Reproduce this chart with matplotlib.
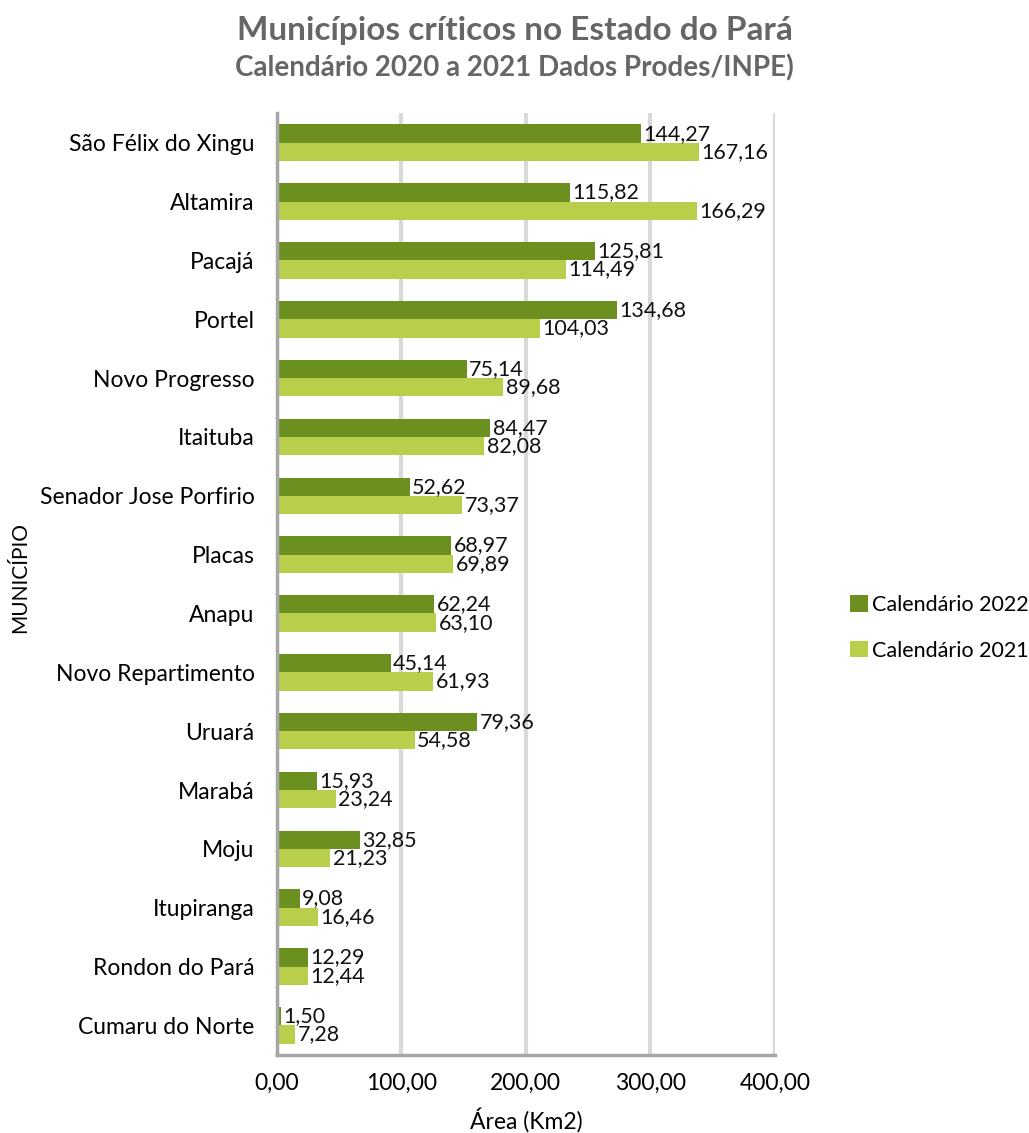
import matplotlib
matplotlib.use("Agg")
import matplotlib.pyplot as plt
import numpy as np

plt.rcParams['font.family'] = ['Lato', 'DejaVu Sans']

municipios = ["São Félix do Xingu", "Altamira", "Pacajá", "Portel", "Novo Progresso",
              "Itaituba", "Senador Jose Porfirio", "Placas", "Anapu", "Novo Repartimento",
              "Uruará", "Marabá", "Moju", "Itupiranga", "Rondon do Pará", "Cumaru do Norte"]
cal_2022 = [144.27, 115.82, 125.81, 134.68, 75.14, 84.47, 52.62, 68.97, 62.24, 45.14,
            79.36, 15.93, 32.85, 9.08, 12.29, 1.50]
cal_2021 = [167.16, 166.29, 114.49, 104.03, 89.68, 82.08, 73.37, 69.89, 63.10, 61.93,
            54.58, 23.24, 21.23, 16.46, 12.44, 7.28]
ticks = [0, 100, 200, 300, 400]
# no original o eixo esta desenhado a ~2.03x os valores das etiquetas
escala = 2.03

verde_esc = "#6B9020"
verde_cla = "#B9CF4B"

fig = plt.figure(figsize=(10.29, 11.33), dpi=100)
ax = fig.add_axes([0.269, 0.069, 0.484, 0.831])

y = np.arange(len(municipios))
h = 0.31
b1 = ax.barh(y - h / 2, cal_2022, height=h, color=verde_esc, label="Calendário 2022", zorder=3)
b2 = ax.barh(y + h / 2, cal_2021, height=h, color=verde_cla, label="Calendário 2021", zorder=3)

for bars, vals in ((b1, cal_2022), (b2, cal_2021)):
    for r, v in zip(bars, vals):
        ax.text(r.get_width() + 0.9, r.get_y() + r.get_height() / 2,
                f"{v:.2f}".replace(".", ","), va="center", ha="left", fontsize=15.5,
                color="#111111", zorder=4)

ax.set_ylim(len(municipios) - 0.5, -0.5)
ax.set_xlim(0, 400 / escala)
ax.set_yticks(y)
ax.set_yticklabels(municipios, fontsize=16.5)
ax.set_xticks([t / escala for t in ticks])
ax.set_xticklabels([f"{t:.2f}".replace(".", ",") for t in ticks], fontsize=16.5)
ax.tick_params(axis="both", length=0)
ax.tick_params(axis="y", pad=16)
ax.tick_params(axis="x", pad=13)

ax.grid(axis="x", color="#d9d9d9", linewidth=3, zorder=0)
for s in ("top", "right"):
    ax.spines[s].set_visible(False)
ax.spines["left"].set_color("#a6a6a6")
ax.spines["left"].set_linewidth(2.5)
ax.spines["bottom"].set_color("#a6a6a6")
ax.spines["bottom"].set_linewidth(2.5)
ax.spines["left"].set_zorder(5)

ax.set_xlabel("Área (Km2)", fontsize=16.5, labelpad=10)
fig.text(0.02, 0.49, "MUNICÍPIO", rotation=90, va="center", ha="center", fontsize=15)

fig.text(0.50, 0.973, "Municípios críticos no Estado do Pará", ha="center", va="center",
         fontsize=24, fontweight="bold", color="#666666")
fig.text(0.50, 0.940, "Calendário 2020 a 2021 Dados Prodes/INPE)", ha="center", va="center",
         fontsize=20, fontweight="bold", color="#666666")

fig.legend(handles=[b1, b2], loc="center right", bbox_to_anchor=(1.008, 0.446),
           frameon=False, fontsize=15.5, handlelength=0.8, handleheight=0.8,
           handletextpad=0.2, labelspacing=1.2, borderaxespad=0.0)

fig.savefig("out.png", dpi=100)
